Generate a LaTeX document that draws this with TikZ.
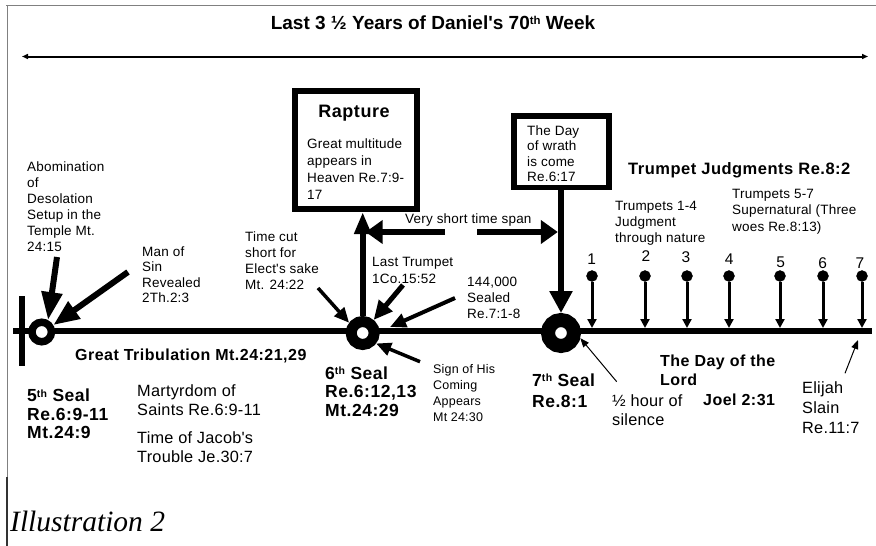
\documentclass[tikz,border=0pt]{standalone}
\usepackage{fontspec}
\setmainfont{Liberation Sans}[Ligatures=TeXOff]
\newfontfamily\wide{Liberation Sans}[LetterSpace=1.5,Ligatures=TeXOff]
\newfontfamily\heavy{Liberation Sans}[LetterSpace=3,Ligatures=TeXOff]
\newfontfamily\capserif{Liberation Serif}
\usetikzlibrary{arrows.meta}
\newcommand\ord[1]{\raisebox{0.5ex}{\scalebox{0.6}{#1}}}

\begin{document}
\begin{tikzpicture}[x=1pt, y=-1pt,
  txt/.style={anchor=north west, inner sep=0pt, align=left},
  smalltxt/.style={txt, font=\wide\fontsize{13.5}{16}\selectfont},
  midtxt/.style={txt, font=\wide\fontsize{16.3}{19}\selectfont},
  sealtxt/.style={txt, font=\heavy\bfseries\fontsize{17.5}{18.5}\selectfont},
  boldtxt/.style={inner sep=0pt, anchor=base west, font=\heavy\bfseries\fontsize{16}{19}\selectfont},
  numtxt/.style={inner sep=0pt, anchor=base, font=\wide\fontsize{15.5}{18}\selectfont},
  sealring/.style={draw, circle, fill=white, inner sep=0pt},
  framebox/.style={draw, rectangle, inner sep=0pt},
  trdot/.style={draw, circle, fill=black, inner sep=0pt, minimum size=11pt},
  fatarrow/.style={line width=6pt, -{Triangle[length=26pt,width=20pt]}},
  midarrow/.style={line width=5pt, -{Triangle[length=19pt,width=17pt]}},
  slimarrow/.style={line width=3.5pt, -{Triangle[length=15pt,width=13pt]}},
  thinarrow/.style={line width=1pt, -{Triangle[length=9pt,width=7pt]}},
  stem/.style={line width=3pt, -{Triangle[length=9pt,width=9pt]}}]
\useasboundingbox (0,0) rectangle (876,546);

% frame
\draw[gray, line width=1pt] (6,5.5) -- (876,5.5);
\draw[gray, line width=1pt] (7,5) -- (7,546);
\draw[black!80, line width=1.6pt] (7,477) -- (7,546);

% heading
\node[inner sep=0pt, anchor=base, font=\bfseries\fontsize{19}{23}\selectfont] (title) at (433,29.5) {Last 3 ½ Years of Daniel's 70\ord{th} Week};
\coordinate (wl) at (22,56.5);
\coordinate (wr) at (868,56.5);
\draw[line width=2pt, {Triangle[length=6pt,width=5pt]}-{Triangle[length=6pt,width=5pt]}] (wl) -- (wr);

% time line
\coordinate (tl0) at (13,331);
\coordinate (tl1) at (872,331);
\draw[line width=6pt] (tl0) -- (tl1);
\draw[line width=6.5pt] (22,296) -- (22,366);

\node[sealring, minimum size=19.5pt, line width=7.5pt] (seal5) at (41.7,332) {};
\node[sealring, minimum size=23pt, line width=11pt] (seal6) at (362.7,333) {};
\node[sealring, minimum size=26pt, line width=14pt] (seal7) at (561,333) {};

% boxes
\node[framebox, minimum width=122pt, minimum height=118pt, line width=6pt] (rapture) at (356,150) {};
\node[inner sep=0pt, anchor=base, font=\heavy\bfseries\fontsize{18}{20}\selectfont] (raptitle) at (354,117) {Rapture};
\node[smalltxt, font=\wide\fontsize{13.5}{17}\selectfont] (raptxt) at (307,138.6) {Great multitude\\appears in\\Heaven Re.7:9-\\17};
\node[framebox, minimum width=95pt, minimum height=71.5pt, line width=5.5pt] (wrath) at (561.5,151.5) {};
\node[smalltxt, font=\wide\fontsize{13.5}{15.5}\selectfont] (wrathtxt) at (527,125.3) {The Day\\of wrath\\is come\\Re.6:17};

\draw[fatarrow, -{Triangle[length=22pt,width=16pt]}] (seal6.north) -- (seal6.north |- rapture.south);
\draw[fatarrow, line width=6.5pt, -{Triangle[length=22pt,width=22pt]}] (wrath.south -| seal7.north) -- (seal7.north);

\node[inner sep=0pt, anchor=base west, font=\wide\fontsize{13.5}{16}\selectfont] (span) at (405,223.3) {Very short time span};
\coordinate (spanl) at (445,232);
\coordinate (spanr) at (477,232);
\coordinate (spantipl) at (365.7,232);
\coordinate (spantipr) at (557.8,232);
\draw[fatarrow, -{Triangle[length=17pt,width=23pt]}] (spanl) -- (spantipl);
\draw[fatarrow, -{Triangle[length=17pt,width=23pt]}] (spanr) -- (spantipr);

% left labels
\node[smalltxt] (abom) at (27,161.3) {Abomination\\of\\Desolation\\Setup in the\\Temple Mt.\\24:15};
\node[smalltxt, font=\wide\fontsize{13.5}{15.5}\selectfont] (mansin) at (142,246.3) {Man of\\Sin\\Revealed\\2Th.2:3};
\coordinate (abomtail) at (57,257);
\coordinate (mansintail) at (128,272);
\draw[fatarrow, -{Triangle[length=28pt,width=20pt]}] (abomtail) -- (seal5.62);
\draw[fatarrow, -{Triangle[length=26pt,width=20pt]}] (mansintail) -- (seal5.31);

\node[boldtxt] (gtrib) at (75,360) {Great Tribulation Mt.24:21,29};
\node[sealtxt] (seal5txt) at (27,389) {5\ord{th} Seal\\Re.6:9-11\\Mt.24:9};
\node[midtxt] (martyr) at (137,384) {Martyrdom of\\Saints Re.6:9-11};
\node[midtxt] (jacob) at (137,431) {Time of Jacob's\\Trouble Je.30:7};

% labels round the 6th seal
\node[smalltxt] (timecut) at (245,232) {Time cut\\short for\\Elect's sake\\Mt. 24:22};
\node[smalltxt, font=\wide\fontsize{13.5}{16.7}\selectfont] (lasttr) at (372,257) {Last Trumpet\\1Co.15:52};
\node[smalltxt] (sealed) at (467,277) {144,000\\Sealed\\Re.7:1-8};
\node[smalltxt, font=\wide\fontsize{12.5}{16}\selectfont] (sign) at (433,364.3) {Sign of His\\Coming\\Appears\\Mt 24:30};
\coordinate (timecuttail) at (318,288);
\coordinate (lasttrtail) at (403,285);
\coordinate (sealedtail) at (455,298);
\coordinate (sealedtip) at (390,327);
\coordinate (signtail) at (420,361.7);
\draw[slimarrow] (timecuttail) -- (seal6.143);
\draw[midarrow] (lasttrtail) -- (seal6.50);
\draw[line width=4pt, -{Triangle[length=16pt,width=14pt]}] (sealedtail) -- (sealedtip);
\draw[slimarrow] (signtail) -- (seal6.-38);
\node[sealtxt] (seal6txt) at (325,366.4) {6\ord{th} Seal\\Re.6:12,13\\Mt.24:29};

% 7th seal and trumpets
\node[sealtxt, font=\heavy\bfseries\fontsize{17.5}{21}\selectfont] (seal7txt) at (532,373.4) {7\ord{th} Seal\\Re.8:1};
\node[midtxt] (halfhr) at (612,394.3) {½ hour of\\silence};
\coordinate (halfhrtail) at (616.7,381.7);
\draw[thinarrow] (halfhrtail) -- (seal7.-15);
\node[txt, font=\heavy\bfseries\fontsize{16}{19}\selectfont] (daylord) at (660,354.5) {The Day of the\\Lord};
\node[boldtxt] (joel) at (703,405.7) {Joel 2:31};
\node[midtxt, font=\wide\fontsize{16.3}{20}\selectfont] (elijah) at (802,381.6) {Elijah\\Slain\\Re.11:7};
\coordinate (elijahtail) at (845,373.3);
\coordinate (elijahtip) at (858,340);
\draw[thinarrow] (elijahtail) -- (elijahtip);

\node[boldtxt, font=\heavy\bfseries\fontsize{16.5}{19}\selectfont] (trjudg) at (628,174) {Trumpet Judgments Re.8:2};
\node[smalltxt] (tr14) at (615,201) {Trumpets 1-4\\Judgment\\through nature};
\node[smalltxt, font=\wide\fontsize{13.5}{16.5}\selectfont] (tr57) at (732,188.6) {Trumpets 5-7\\Supernatural (Three\\woes Re.8:13)};

\node[numtxt] (n1) at (591.7,264) {1};
\node[numtxt] (n2) at (646,261.7) {2};
\node[numtxt] (n3) at (686,262.3) {3};
\node[numtxt] (n4) at (729.3,264) {4};
\node[numtxt] (n5) at (780.7,267.3) {5};
\node[numtxt] (n6) at (822.7,268.3) {6};
\node[numtxt] (n7) at (860,268.3) {7};

\node[trdot] (t1) at (592,276) {};
\node[trdot] (t2) at (645,276) {};
\node[trdot] (t3) at (687,276) {};
\node[trdot] (t4) at (729,276) {};
\node[trdot] (t5) at (780,276) {};
\node[trdot] (t6) at (823,276) {};
\node[trdot] (t7) at (862,276) {};
\coordinate (b1) at (592,328);
\coordinate (b2) at (645,328);
\coordinate (b3) at (687,328);
\coordinate (b4) at (729,328);
\coordinate (b5) at (780,328);
\coordinate (b6) at (823,328);
\coordinate (b7) at (862,328);
\draw[stem] (t1) -- (b1);
\draw[stem] (t2) -- (b2);
\draw[stem] (t3) -- (b3);
\draw[stem] (t4) -- (b4);
\draw[stem] (t5) -- (b5);
\draw[stem] (t6) -- (b6);
\draw[stem] (t7) -- (b7);

% caption
\node[inner sep=0pt, anchor=base west, font=\capserif\itshape\fontsize{29.5}{34}\selectfont] (caption) at (10,531.7) {Illustration 2};
\end{tikzpicture}
\end{document}
